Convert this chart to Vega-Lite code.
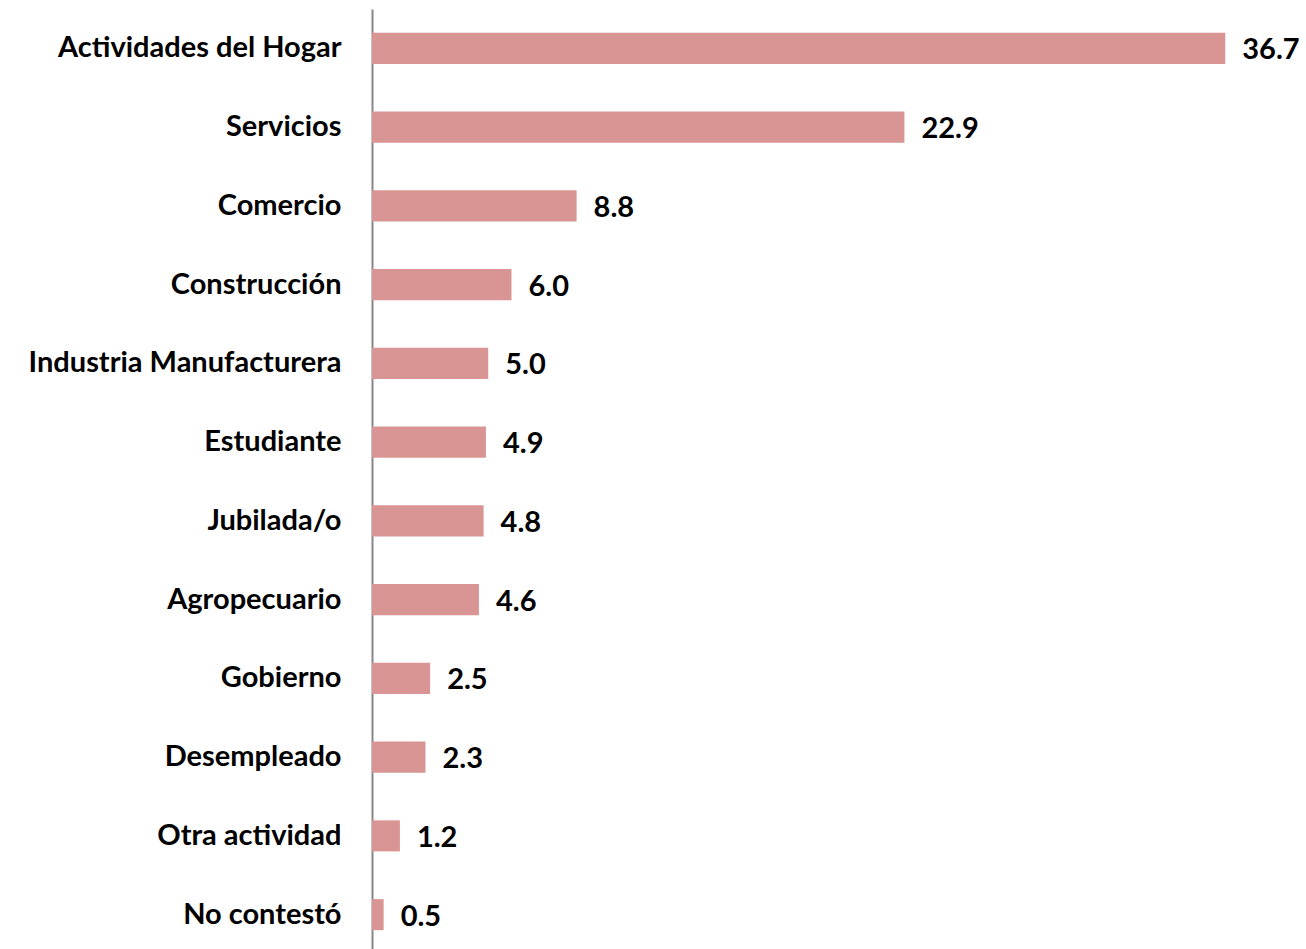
{
  "$schema": "https://vega.github.io/schema/vega-lite/v6.json",
  "width": 930,
  "height": 945,
  "autosize": {"type": "none"},
  "padding": {"left": 372, "top": 9, "right": 0, "bottom": 0},
  "background": "white",
  "data": {"values": [
    {"cat": "Actividades del Hogar", "v": 36.7},
    {"cat": "Servicios", "v": 22.9},
    {"cat": "Comercio", "v": 8.8},
    {"cat": "Construcción", "v": 6.0},
    {"cat": "Industria Manufacturera", "v": 5.0},
    {"cat": "Estudiante", "v": 4.9},
    {"cat": "Jubilada/o", "v": 4.8},
    {"cat": "Agropecuario", "v": 4.6},
    {"cat": "Gobierno", "v": 2.5},
    {"cat": "Desempleado", "v": 2.3},
    {"cat": "Otra actividad", "v": 1.2},
    {"cat": "No contestó", "v": 0.5}
  ]},
  "encoding": {
    "y": {"field": "cat", "type": "nominal", "sort": null,
      "scale": {"paddingInner": 0.606, "paddingOuter": 0.303},
      "axis": {"title": null, "ticks": false, "domain": true, "domainColor": "#888888", "domainWidth": 2,
        "labelFont": "Lato", "labelFontWeight": "bold", "labelFontSize": 29, "labelColor": "black", "labelPadding": 31, "labelLimit": 0}},
    "x": {"field": "v", "type": "quantitative", "scale": {"domain": [0, 40], "nice": false}, "axis": null}
  },
  "layer": [
    {"mark": {"type": "bar", "color": "#d99594"}},
    {"mark": {"type": "text", "align": "left", "dx": 17, "dy": 2, "font": "Lato", "fontWeight": "bold", "fontSize": 29, "color": "black"},
     "encoding": {"text": {"field": "v", "type": "quantitative", "format": ".1f"}}}
  ],
  "config": {"view": {"stroke": null}, "axis": {"grid": false}}
}
